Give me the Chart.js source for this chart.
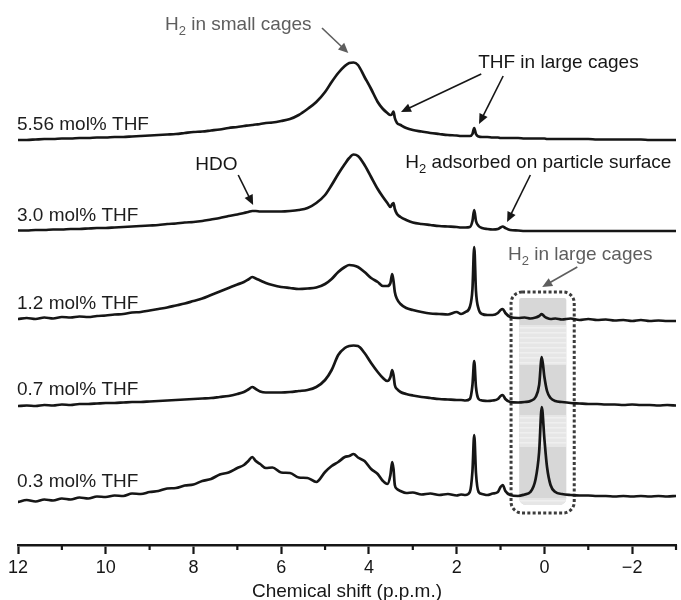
<!DOCTYPE html>
<html>
<head>
<meta charset="utf-8">
<title>1H NMR of H2 in THF hydrate</title>
<script src="https://cdn.jsdelivr.net/npm/chart.js@4.4.1/dist/chart.umd.min.js"></script>
<style>
  html, body { margin: 0; padding: 0; background: #fff; }
  #wrap { width: 681px; height: 600px; }
</style>
</head>
<body>
<div id="wrap"><canvas id="nmrChart" width="681" height="600"></canvas></div>
<script>
// Chemical shift grid (p.p.m.), shared by all spectra
const shiftPpm = [
  12.0, 11.8, 11.6, 11.4, 11.2, 11.0, 10.8, 10.6, 10.4, 10.2,
  10.0, 9.8, 9.6, 9.4, 9.2, 9.0, 8.8, 8.6, 8.4, 8.2,
  8.0, 7.8, 7.6, 7.4, 7.2, 7.0, 6.85, 6.75, 6.66, 6.58,
  6.48, 6.35, 6.2, 6.0, 5.8, 5.6, 5.4, 5.2, 5.0, 4.85,
  4.7, 4.55, 4.45, 4.35, 4.25, 4.1, 3.95, 3.8, 3.68, 3.58,
  3.51, 3.47, 3.44, 3.41, 3.36, 3.28, 3.15, 3.0, 2.8, 2.6,
  2.4, 2.2, 2.0, 1.9, 1.8, 1.7, 1.64, 1.6, 1.56, 1.5,
  1.42, 1.3, 1.18, 1.06, 1.0, 0.95, 0.89, 0.78, 0.6, 0.45,
  0.32, 0.2, 0.12, 0.06, 0.0, -0.06, -0.14, -0.25, -0.4, -0.6,
  -0.8, -1.0, -1.2, -1.4, -1.6, -1.8, -2.0, -2.2, -2.4, -2.6,
  -2.8, -3.0
];

const sampleLabels = ['5.56 mol% THF', '3.0 mol% THF', '1.2 mol% THF', '0.7 mol% THF', '0.3 mol% THF'];

// Intensities (a.u.) on the grid above
const intensity556 = [
  0, 0, 0.5, 1, 1, 1.5, 1.5, 2, 2, 2.5,
  2.5, 3, 3, 3.5, 4, 4.5, 5, 5.5, 6, 7,
  8, 8.5, 9.5, 10.5, 12, 13, 14, 14.5, 15, 15.5,
  16, 17, 17.5, 19, 21, 25, 31, 38, 48, 58,
  67, 74, 77, 77.5, 75, 63, 51, 38, 31, 27,
  25, 26, 28.5, 22, 17, 15, 12, 10, 8.5, 7,
  6, 5, 4.5, 4, 4, 4, 6, 12, 6, 3.5,
  3, 3, 2.5, 2.5, 2, 2, 2, 2, 2, 1.5,
  1.5, 1.5, 1.5, 1.5, 1.5, 1, 1, 1, 1, 1,
  1, 1, 0.5, 0.5, 0.5, 0.5, 0.5, 0.5, 0, 0,
  0, 0
];
const intensity30 = [
  0.5, 0.5, 1, 1, 1.5, 1.5, 2, 2, 2.5, 3,
  3, 3.5, 4, 4.5, 5, 5.5, 6, 7, 7.5, 8.5,
  9, 10, 11.5, 13, 15, 16.5, 18, 19, 20, 20,
  19.5, 19.5, 19.5, 19.5, 20, 21, 23, 28, 36, 46,
  57, 67, 73, 76.5, 75, 66, 54, 42, 34, 28,
  24, 27, 28, 22, 17, 14, 11, 8.5, 7, 6,
  5, 4.5, 4, 3.5, 3.5, 4, 10, 21, 10, 5,
  3, 2, 1.5, 2, 3.5, 4.5, 3, 1, 0.5, 0,
  0, 0, 0, 0, 0, 0, 0, 0, 0, 0,
  0, 0, 0, 0, 0, 0, 0, 0, 0, 0,
  0, 0
];
const intensity12 = [
  0, 1, 0, 1.5, 0.5, 2, 1.5, 2.5, 2, 3,
  3.5, 4.5, 5, 6.5, 7, 8.5, 10, 11.5, 13.5, 15.5,
  18, 20.5, 24, 27.5, 31, 34.5, 37, 39.5, 42, 40.5,
  38.5, 36, 34, 32, 31, 30, 30.5, 31.5, 35, 40,
  47, 52, 54, 53.5, 52, 47, 41, 37, 33, 33,
  36, 45, 38, 27, 20, 15, 11, 9, 7, 5.5,
  5, 4.5, 7, 5, 7, 12, 30, 72, 28, 10,
  5, 4, 4, 6, 9, 10, 6, 2, 1, 1.5,
  0.5, 1.5, 3, 5, 2.5, 1, 0, 0.5, -0.5, 0.5,
  -1, 0, -1, -0.5, -1.5, -1, -2, -1, -2, -1.5,
  -2, -2
];
const intensity07 = [
  -1, -0.5, -1, 0, -0.5, 0.5, 0, 1, 1, 1.5,
  2, 2, 2.5, 3, 3, 3.5, 4, 4.5, 5, 5.5,
  6, 6.5, 7, 8, 9, 11, 13, 15.5, 18, 16,
  13.5, 12.5, 12.5, 12.5, 13, 14, 15, 18, 25, 35,
  50, 57, 59, 59.5, 59, 52, 42, 33, 27, 24,
  28, 35, 30, 20, 16, 13, 11, 9.5, 8, 7,
  6, 5.5, 5, 5, 4.5, 6, 20, 44, 18, 6,
  4.5, 4, 4.5, 6, 9, 10, 6, 3, 2.5, 3,
  4, 8, 20, 48, 28, 14, 7, 4, 3, 2,
  1.5, 1, 1, 0.5, 0.5, 0, 0.5, 0, 0, -0.5,
  0, -0.5
];
const intensity03 = [
  -5, -3, -4.5, -2.5, -3.5, -1.5, -2.5, -0.5, -1.5, 0.5,
  0, 1.5, 1, 3.5, 3, 5, 6, 8.5, 9, 11.5,
  12.5, 16, 18, 22.5, 24.5, 29, 32, 36, 40, 36,
  33, 29, 29.5, 24.5, 24, 19.5, 19, 15, 25, 31,
  35, 40, 41, 43, 39.5, 36, 28, 23, 16, 13,
  22, 35, 28, 12, 8, 6, 4, 4.5, 2.5, 3.5,
  2, 3, 1.5, 2.5, 2, 5, 26, 62, 24, 5,
  3, 2, 3.5, 5, 10, 12, 6, 2, 1, 2.5,
  5, 18, 45, 90, 58, 30, 12, 5, 3, 2,
  1.5, 1.5, 1, 1, 0.5, 1, 0.5, 1, 0.5, 1,
  0.5, 1
];

const majorTicks = [12, 10, 8, 6, 4, 2, 0, -2];
const minorTicks = [11, 9, 7, 5, 3, 1, -1, -3];

// ---- layout / style ----
const FONT = '"Liberation Sans", Arial, Helvetica, sans-serif';
const INK = '#161616';
const GREY = '#5e5e5e';
const stackOffsets = [405, 314, 226, 140, 48];
const spectra = [intensity556, intensity30, intensity12, intensity07, intensity03];

// text and arrows, positioned in (ppm, intensity) units
const notes = [
  { parts: [{ t: 'H' }, { t: '2', sub: true }, { t: ' in small cages' }], x: 8.65, y: 520, color: GREY,
    arrows: [[5.07, 517, 4.47, 492]] },
  { parts: [{ t: 'THF in large cages' }], x: 1.51, y: 482, color: INK,
    arrows: [[1.44, 471, 3.27, 433], [0.94, 469, 1.49, 421]] },
  { parts: [{ t: 'HDO' }], x: 7.96, y: 380, color: INK,
    arrows: [[6.98, 370, 6.64, 340]] },
  { parts: [{ t: 'H' }, { t: '2', sub: true }, { t: ' adsorbed on particle surface' }], x: 3.17, y: 382, color: INK,
    arrows: [[0.32, 370, 0.85, 323]] },
  { parts: [{ t: 'H' }, { t: '2', sub: true }, { t: ' in large cages' }], x: 0.83, y: 290, color: GREY,
    arrows: [[-0.75, 278, 0.05, 258]] }
];

const cageBox = { x0: 0.76, x1: -0.68, y0: 253, y1: 32 };
const cageFill = { x0: 0.575, x1: -0.5, y0: 247, y1: 40 };
const lightBands = [[220, 180], [130, 98], [47, 40]];

function drawRich(ctx, parts, x, y, color) {
    ctx.fillStyle = color;
    ctx.textBaseline = 'middle';
    ctx.textAlign = 'left';
    let cx = x;
    parts.forEach(p => {
        ctx.font = (p.sub ? '13px ' : '19px ') + FONT;
        ctx.fillText(p.t, cx, p.sub ? y + 6 : y);
        cx += ctx.measureText(p.t).width;
    });
}

function drawArrow(ctx, x1, y1, x2, y2, color) {
    const ang = Math.atan2(y2 - y1, x2 - x1);
    const head = 10, half = 4.5;
    ctx.strokeStyle = color;
    ctx.fillStyle = color;
    ctx.lineWidth = 1.6;
    ctx.setLineDash([]);
    ctx.beginPath();
    ctx.moveTo(x1, y1);
    ctx.lineTo(x2 - Math.cos(ang) * head * 0.8, y2 - Math.sin(ang) * head * 0.8);
    ctx.stroke();
    ctx.beginPath();
    ctx.moveTo(x2, y2);
    ctx.lineTo(x2 - head * Math.cos(ang) + half * Math.sin(ang), y2 - head * Math.sin(ang) - half * Math.cos(ang));
    ctx.lineTo(x2 - head * Math.cos(ang) - half * Math.sin(ang), y2 - head * Math.sin(ang) + half * Math.cos(ang));
    ctx.closePath();
    ctx.fill();
}

const spectrumDecor = {
    id: 'spectrumDecor',
    beforeDatasetsDraw(chart) {
        const { ctx, scales: { x, y } } = chart;
        ctx.save();
        // grey band behind the 0 p.p.m. region
        const fx0 = x.getPixelForValue(cageFill.x0), fx1 = x.getPixelForValue(cageFill.x1);
        const fy0 = y.getPixelForValue(cageFill.y0), fy1 = y.getPixelForValue(cageFill.y1);
        ctx.fillStyle = '#d7d7d7';
        ctx.beginPath();
        ctx.roundRect(fx0, fy0, fx1 - fx0, fy1 - fy0, [2, 2, 7, 7]);
        ctx.fill();
        ctx.save();
        ctx.clip();
        lightBands.forEach(([a, b]) => {
            const ya = y.getPixelForValue(a), yb = y.getPixelForValue(b);
            ctx.fillStyle = '#e6e6e6';
            ctx.fillRect(fx0, ya, fx1 - fx0, yb - ya);
            ctx.fillStyle = '#efefef';
            for (let yy = ya + 2; yy < yb - 1; yy += 5) ctx.fillRect(fx0, yy, fx1 - fx0, 1.5);
        });
        ctx.restore();

        // dotted outline
        const bx0 = x.getPixelForValue(cageBox.x0), bx1 = x.getPixelForValue(cageBox.x1);
        const by0 = y.getPixelForValue(cageBox.y0), by1 = y.getPixelForValue(cageBox.y1);
        ctx.strokeStyle = '#3c3c3c';
        ctx.lineWidth = 3;
        ctx.setLineDash([3, 2.3]);
        ctx.beginPath();
        ctx.roundRect(bx0, by0, bx1 - bx0, by1 - by0, 11);
        ctx.stroke();
        ctx.restore();
    },
    afterDraw(chart) {
        const { ctx, scales: { x, y } } = chart;
        ctx.save();
        // minor ticks on the shift axis
        ctx.strokeStyle = INK;
        ctx.lineWidth = 2.2;
        minorTicks.forEach(v => {
            const px = x.getPixelForValue(v);
            ctx.beginPath();
            ctx.moveTo(px, y.bottom);
            ctx.lineTo(px, y.bottom + 5);
            ctx.stroke();
        });

        // sample names above each baseline
        sampleLabels.forEach((name, k) => {
            drawRich(ctx, [{ t: name }], x.getPixelForValue(12) - 1, y.getPixelForValue(stackOffsets[k] + 15), '#1e1e1e');
        });

        notes.forEach(n => {
            drawRich(ctx, n.parts, x.getPixelForValue(n.x), y.getPixelForValue(n.y), n.color);
            n.arrows.forEach(a => drawArrow(ctx,
                x.getPixelForValue(a[0]), y.getPixelForValue(a[1]),
                x.getPixelForValue(a[2]), y.getPixelForValue(a[3]), n.color));
        });
        ctx.restore();
    }
};

const ctx = document.getElementById('nmrChart').getContext('2d');
new Chart(ctx, {
    type: 'line',
    data: {
        datasets: spectra.map((vals, k) => ({
            label: sampleLabels[k],
            data: shiftPpm.map((s, i) => ({ x: s, y: stackOffsets[k] + vals[i] })),
            borderColor: INK,
            borderWidth: 2.7,
            pointRadius: 0,
            fill: false,
            cubicInterpolationMode: 'monotone',
            borderJoinStyle: 'round',
            borderCapStyle: 'round'
        }))
    },
    options: {
        responsive: false,
        animation: false,
        devicePixelRatio: 1,
        layout: { padding: { left: 18, right: 5, top: 0, bottom: 0 } },
        plugins: { legend: { display: false }, tooltip: { enabled: false } },
        scales: {
            x: {
                type: 'linear',
                reverse: true,
                min: -3,
                max: 12,
                afterBuildTicks: s => { s.ticks = majorTicks.map(v => ({ value: v })); },
                afterFit: s => { s.height = 55; },
                grid: { drawOnChartArea: false, drawTicks: true, tickLength: 9, tickWidth: 2.2, tickColor: INK },
                border: { display: true, color: INK, width: 2.6 },
                ticks: {
                    color: INK,
                    font: { family: FONT, size: 18 },
                    padding: 3,
                    maxRotation: 0,
                    autoSkip: false,
                    callback: v => (v < 0 ? '\u2212' + Math.abs(v) : String(v))
                },
                title: {
                    display: true,
                    text: 'Chemical shift (p.p.m.)',
                    color: INK,
                    font: { family: FONT, size: 19 },
                    padding: { top: 0, bottom: -3 }
                }
            },
            y: { display: false, min: 0, max: 545 }
        }
    },
    plugins: [spectrumDecor]
});
</script>
</body>
</html>
